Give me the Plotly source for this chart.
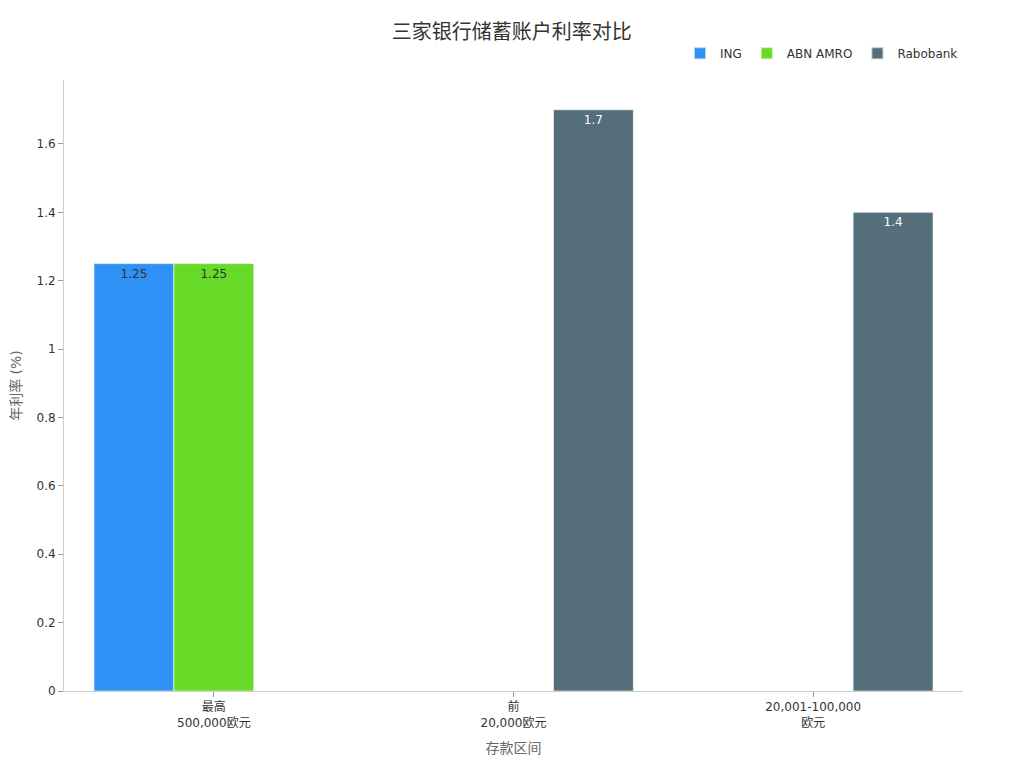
import plotly.graph_objects as go

categories = ["最高<br>500,000欧元", "前<br>20,000欧元", "20,001-100,000<br>欧元"]
ing = [1.25, None, None]
abn = [1.25, None, None]
rabo = [None, 1.7, 1.4]

FONT = "DejaVu Sans, Noto Sans CJK SC, sans-serif"

fig = go.Figure()
series = [("ING", ing, "#2f91f5", "#333333"),
          ("ABN AMRO", abn, "#66da26", "#333333"),
          ("Rabobank", rabo, "#546e7a", "#ffffff")]
for name, vals, color, tcolor in series:
    fig.add_trace(go.Bar(
        name=name, x=categories, y=vals,
        marker=dict(color=color, line=dict(color="rgba(255,255,255,0.6)", width=1)),
        text=[("%g" % v) if v is not None else None for v in vals],
        textposition="inside", insidetextanchor="end",
        textfont=dict(color=tcolor, size=12, family=FONT),
        constraintext="none",
    ))

fig.update_layout(
    width=1024, height=768,
    barmode="group", bargap=0.2, bargroupgap=0,
    plot_bgcolor="white", paper_bgcolor="white",
    font=dict(family=FONT, color="#333333", size=12),
    title=dict(text="三家银行储蓄账户利率对比", x=0.492, xanchor="center", y=0.969, yanchor="middle",
               font=dict(size=20, color="#333333", family=FONT)),
    margin=dict(l=56, r=69, t=72, b=85),
    legend=dict(orientation="h", x=1, xanchor="right", y=1.02, yanchor="bottom",
                font=dict(size=12, color="#333333"), itemsizing="constant"),
    xaxis=dict(title=dict(text="存款区间", font=dict(size=14, color="#666666"), standoff=14),
               automargin=False,
               showline=True, linecolor="#cccccc", ticks="outside", tickcolor="#999999",
               ticklen=5, showgrid=False, tickfont=dict(size=12, color="#333333")),
    yaxis=dict(title=dict(text="年利率 (%)", font=dict(size=14, color="#666666"), standoff=15),
               automargin=False,
               range=[0, 1.787], showline=True, linecolor="#cccccc", ticks="outside",
               tickcolor="#999999", ticklen=5, showgrid=False, zeroline=False,
               dtick=0.2, tickfont=dict(size=12, color="#333333")),
)
fig.write_html("out.html")
